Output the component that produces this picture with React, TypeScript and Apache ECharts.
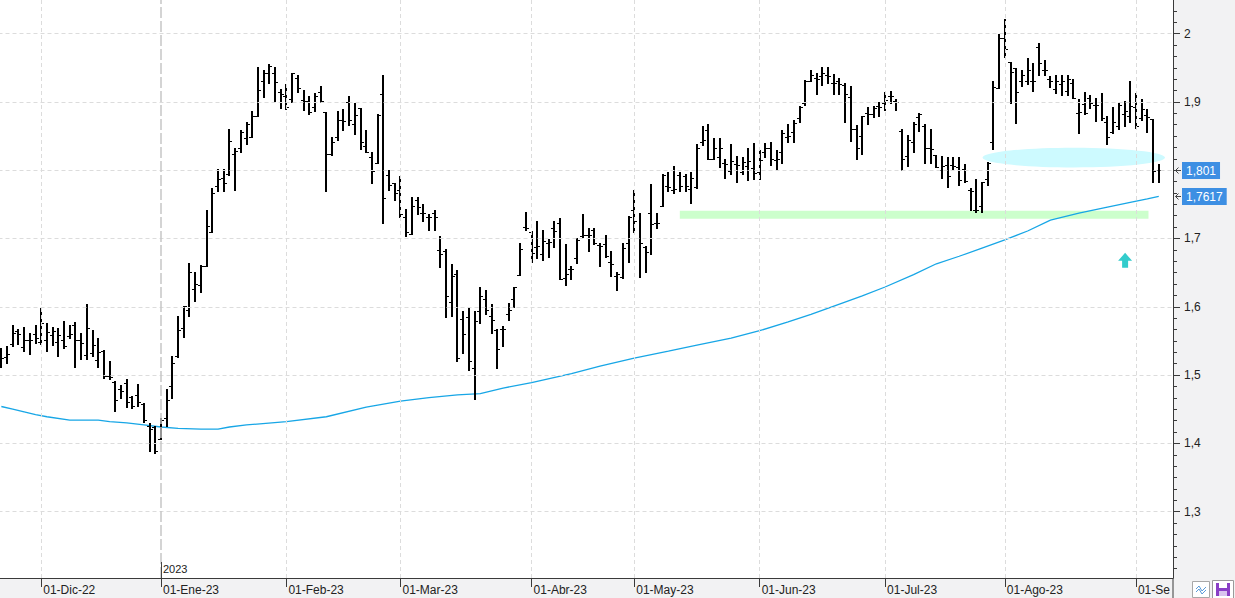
import React, { useEffect, useRef } from "react";
import * as echarts from "echarts";

const FONT = "'Liberation Sans', Arial, Helvetica, sans-serif";

// ---- calendar (trading sessions per month) ----
const monthNames = ["Nov-22", "Dic-22", "Ene-23", "Feb-23", "Mar-23", "Abr-23", "May-23", "Jun-23", "Jul-23", "Ago-23", "Sep-23"];
const monthTradingDays = [7, 21, 22, 20, 23, 18, 22, 22, 21, 23, 5];
const monthTickLabels = ["", "01-Dic-22", "01-Ene-23", "01-Feb-23", "01-Mar-23", "01-Abr-23", "01-May-23", "01-Jun-23", "01-Jul-23", "01-Ago-23", "01-Se"];

// ---- OHLC values ----
const open = [
  1.525, 1.527, 1.546, 1.565, 1.541, 1.551, 1.560, 1.549, 1.551, 1.559,
  1.549, 1.551, 1.557, 1.573, 1.552, 1.529, 1.532, 1.522, 1.535, 1.499,
  1.490, 1.480, 1.488, 1.468, 1.471, 1.458, 1.425, 1.424, 1.407, 1.437,
  1.484, 1.528, 1.569, 1.596, 1.626, 1.632, 1.659, 1.710, 1.777, 1.788,
  1.795, 1.823, 1.833, 1.847, 1.848, 1.879, 1.930, 1.943, 1.942, 1.914,
  1.909, 1.904, 1.935, 1.903, 1.902, 1.892, 1.914, 1.885, 1.823, 1.848,
  1.873, 1.900, 1.867, 1.891, 1.836, 1.820, 1.810, 1.912, 1.793, 1.781,
  1.771, 1.731, 1.706, 1.756, 1.738, 1.732, 1.737, 1.683, 1.682, 1.607,
  1.648, 1.582, 1.585, 1.510, 1.594, 1.612, 1.587, 1.566, 1.567, 1.590,
  1.611, 1.647, 1.717, 1.710, 1.688, 1.677, 1.694, 1.716, 1.722, 1.642,
  1.656, 1.672, 1.704, 1.705, 1.713, 1.690, 1.692, 1.665, 1.645, 1.643,
  1.694, 1.741, 1.700, 1.688, 1.737, 1.723, 1.747, 1.777, 1.771, 1.793,
  1.791, 1.772, 1.775, 1.842, 1.859, 1.817, 1.819, 1.810, 1.799, 1.809,
  1.798, 1.806, 1.803, 1.798, 1.826, 1.832, 1.815, 1.826, 1.848, 1.856,
  1.876, 1.898, 1.931, 1.935, 1.938, 1.940, 1.928, 1.931, 1.925, 1.907,
  1.861, 1.850, 1.884, 1.883, 1.894, 1.898, 1.909, 1.901, 1.858, 1.821,
  1.842, 1.878, 1.865, 1.833, 1.822, 1.801, 1.807, 1.807, 1.805, 1.802,
  1.771, 1.742, 1.747, 1.787, 1.841, 1.921, 1.993, 1.958, 1.949, 1.931,
  1.931, 1.931, 1.980, 1.947, 1.933, 1.919, 1.926, 1.916, 1.927, 1.884,
  1.897, 1.906, 1.895, 1.900, 1.871, 1.856, 1.864, 1.882, 1.879, 1.893,
  1.876, 1.881, 1.875, 1.800,
];
const high = [
  1.539, 1.543, 1.573, 1.567, 1.570, 1.561, 1.573, 1.598, 1.576, 1.570,
  1.569, 1.579, 1.574, 1.578, 1.561, 1.604, 1.566, 1.555, 1.537, 1.521,
  1.492, 1.485, 1.494, 1.470, 1.487, 1.459, 1.430, 1.425, 1.437, 1.480,
  1.528, 1.587, 1.601, 1.664, 1.651, 1.661, 1.742, 1.774, 1.802, 1.802,
  1.860, 1.833, 1.859, 1.871, 1.887, 1.951, 1.947, 1.955, 1.951, 1.919,
  1.926, 1.943, 1.939, 1.917, 1.909, 1.913, 1.923, 1.885, 1.848, 1.887,
  1.889, 1.909, 1.899, 1.891, 1.859, 1.827, 1.883, 1.940, 1.800, 1.781,
  1.791, 1.743, 1.761, 1.761, 1.751, 1.736, 1.742, 1.704, 1.684, 1.663,
  1.654, 1.594, 1.600, 1.594, 1.629, 1.625, 1.604, 1.568, 1.572, 1.605,
  1.629, 1.694, 1.739, 1.711, 1.725, 1.712, 1.699, 1.725, 1.730, 1.692,
  1.660, 1.700, 1.736, 1.716, 1.716, 1.693, 1.705, 1.682, 1.651, 1.693,
  1.733, 1.771, 1.738, 1.689, 1.780, 1.738, 1.794, 1.798, 1.806, 1.798,
  1.795, 1.797, 1.839, 1.865, 1.868, 1.847, 1.847, 1.817, 1.838, 1.821,
  1.820, 1.833, 1.840, 1.830, 1.840, 1.842, 1.830, 1.859, 1.868, 1.874,
  1.894, 1.932, 1.946, 1.942, 1.951, 1.951, 1.941, 1.935, 1.927, 1.923,
  1.866, 1.879, 1.893, 1.894, 1.900, 1.914, 1.916, 1.904, 1.861, 1.852,
  1.871, 1.884, 1.868, 1.861, 1.822, 1.821, 1.820, 1.820, 1.820, 1.809,
  1.774, 1.787, 1.782, 1.812, 1.931, 2.000, 2.021, 1.958, 1.949, 1.947,
  1.965, 1.957, 1.986, 1.961, 1.938, 1.939, 1.939, 1.940, 1.933, 1.904,
  1.915, 1.910, 1.905, 1.913, 1.879, 1.892, 1.898, 1.902, 1.931, 1.913,
  1.904, 1.889, 1.875, 1.809,
];
const low = [
  1.512, 1.517, 1.542, 1.546, 1.536, 1.531, 1.547, 1.545, 1.535, 1.544,
  1.528, 1.539, 1.555, 1.512, 1.524, 1.524, 1.528, 1.512, 1.496, 1.494,
  1.447, 1.466, 1.453, 1.452, 1.455, 1.432, 1.389, 1.386, 1.407, 1.425,
  1.467, 1.527, 1.556, 1.587, 1.608, 1.622, 1.659, 1.709, 1.770, 1.770,
  1.793, 1.771, 1.827, 1.838, 1.848, 1.879, 1.907, 1.927, 1.901, 1.891,
  1.890, 1.900, 1.914, 1.888, 1.882, 1.887, 1.900, 1.770, 1.822, 1.844,
  1.859, 1.866, 1.853, 1.831, 1.826, 1.781, 1.810, 1.722, 1.771, 1.757,
  1.732, 1.704, 1.706, 1.736, 1.726, 1.712, 1.712, 1.658, 1.585, 1.587,
  1.521, 1.532, 1.508, 1.465, 1.576, 1.590, 1.562, 1.510, 1.542, 1.580,
  1.600, 1.646, 1.712, 1.666, 1.671, 1.669, 1.673, 1.688, 1.640, 1.632,
  1.640, 1.664, 1.702, 1.681, 1.692, 1.659, 1.673, 1.645, 1.624, 1.642,
  1.666, 1.710, 1.643, 1.651, 1.677, 1.716, 1.747, 1.769, 1.767, 1.769,
  1.769, 1.752, 1.774, 1.837, 1.816, 1.816, 1.805, 1.788, 1.794, 1.783,
  1.795, 1.785, 1.787, 1.787, 1.819, 1.808, 1.802, 1.811, 1.842, 1.842,
  1.871, 1.896, 1.930, 1.911, 1.925, 1.927, 1.912, 1.912, 1.871, 1.843,
  1.816, 1.823, 1.867, 1.878, 1.879, 1.888, 1.898, 1.888, 1.801, 1.806,
  1.827, 1.858, 1.810, 1.810, 1.804, 1.788, 1.776, 1.800, 1.779, 1.783,
  1.742, 1.739, 1.739, 1.779, 1.831, 1.921, 1.966, 1.898, 1.869, 1.923,
  1.926, 1.916, 1.939, 1.939, 1.922, 1.913, 1.910, 1.910, 1.905, 1.854,
  1.883, 1.891, 1.872, 1.873, 1.838, 1.855, 1.861, 1.864, 1.871, 1.862,
  1.873, 1.856, 1.783, 1.783,
];
const close = [
  1.525, 1.531, 1.561, 1.560, 1.552, 1.551, 1.555, 1.576, 1.563, 1.564,
  1.558, 1.542, 1.560, 1.552, 1.547, 1.569, 1.544, 1.534, 1.499, 1.497,
  1.463, 1.477, 1.461, 1.455, 1.461, 1.434, 1.421, 1.389, 1.434, 1.464,
  1.518, 1.566, 1.601, 1.651, 1.633, 1.659, 1.718, 1.767, 1.787, 1.781,
  1.843, 1.828, 1.856, 1.868, 1.879, 1.918, 1.943, 1.953, 1.929, 1.912,
  1.892, 1.942, 1.921, 1.902, 1.885, 1.908, 1.901, 1.823, 1.841, 1.873,
  1.872, 1.873, 1.881, 1.841, 1.827, 1.799, 1.881, 1.759, 1.778, 1.766,
  1.736, 1.709, 1.748, 1.746, 1.737, 1.731, 1.731, 1.678, 1.616, 1.645,
  1.525, 1.560, 1.521, 1.579, 1.616, 1.595, 1.581, 1.538, 1.568, 1.596,
  1.629, 1.684, 1.716, 1.679, 1.689, 1.696, 1.695, 1.711, 1.641, 1.648,
  1.655, 1.698, 1.705, 1.705, 1.693, 1.689, 1.675, 1.662, 1.648, 1.686,
  1.731, 1.726, 1.693, 1.680, 1.721, 1.723, 1.793, 1.776, 1.773, 1.777,
  1.777, 1.788, 1.832, 1.844, 1.817, 1.832, 1.833, 1.809, 1.814, 1.808,
  1.812, 1.814, 1.796, 1.815, 1.833, 1.817, 1.816, 1.855, 1.850, 1.869,
  1.893, 1.931, 1.940, 1.934, 1.943, 1.938, 1.927, 1.926, 1.912, 1.861,
  1.833, 1.879, 1.883, 1.891, 1.893, 1.903, 1.909, 1.900, 1.817, 1.844,
  1.868, 1.882, 1.833, 1.831, 1.805, 1.806, 1.792, 1.806, 1.786, 1.784,
  1.770, 1.741, 1.782, 1.811, 1.922, 1.993, 1.977, 1.944, 1.915, 1.939,
  1.947, 1.930, 1.957, 1.946, 1.931, 1.930, 1.930, 1.934, 1.905, 1.885,
  1.884, 1.899, 1.895, 1.876, 1.848, 1.871, 1.895, 1.887, 1.894, 1.864,
  1.889, 1.878, 1.799, 1.801,
];

// ---- moving average (values read at these sessions) ----
const maIndex = [0, 2, 4, 6, 8, 12, 17, 19, 22, 25, 28, 31, 35, 38, 40, 43, 50, 57, 64, 70, 75, 80, 84, 88, 93, 100, 105, 111, 117, 122, 128, 133, 138, 142, 147, 151, 155, 160, 164, 168, 172, 176, 180, 184, 189, 194, 198, 201, 203];
const maValue = [1.454, 1.450, 1.446, 1.442, 1.439, 1.434, 1.434, 1.432, 1.430, 1.427, 1.424, 1.422, 1.421, 1.421, 1.424, 1.427, 1.432, 1.439, 1.453, 1.462, 1.467, 1.471, 1.473, 1.481, 1.489, 1.502, 1.513, 1.525, 1.535, 1.544, 1.554, 1.565, 1.578, 1.589, 1.604, 1.616, 1.629, 1.647, 1.663, 1.674, 1.686, 1.698, 1.711, 1.727, 1.737, 1.746, 1.753, 1.758, 1.7617];

// ---- axis ----
const yMajorTicks = [1.3, 1.4, 1.5, 1.6, 1.7, 1.8, 1.9, 2.0];
const yTickLabelValues = [1.3, 1.4, 1.5, 1.6, 1.7, 1.9, 2.0]; // 1,8 sits under the last-price box
const yMin = 1.2029;
const yMax = 2.0492;
const yMinorSplit = 6;

// ---- annotations (data coordinates) ----
const greenBand = { fromIndex: 119, toIndex: 201.2, top: 1.7405, bottom: 1.729 };
const cyanEllipse = { fromIndex: 172.1, toIndex: 204.1, top: 1.833, bottom: 1.804 };
const arrowMark = { index: 197.1, tip: 1.679, base: 1.657 };
const yearMark = { index: 28, label: "2023" };

// build categories
const categories: string[] = [];
const labelByIndex: Record<number, string> = {};
monthNames.forEach((m, mi) => {
  if (mi > 0) labelByIndex[categories.length] = monthTickLabels[mi];
  for (let d = 1; d <= monthTradingDays[mi]; d++) categories.push(`${m} #${d}`);
});
const barCount = categories.length;
categories.push("pad-1", "pad-2");

const ohlcData = open.map((o, i) => [i, o, high[i], low[i], close[i]]);
const maSeries: (number | null)[] = new Array(barCount).fill(null);
maIndex.forEach((idx, k) => (maSeries[idx] = maValue[k]));

const yMinorTicks: number[] = [];
for (let k = 0; k < yMajorTicks.length + 1; k++) {
  const base = 1.2 + k * 0.1;
  for (let s = 1; s < yMinorSplit; s++) {
    const v = base + (s * 0.1) / yMinorSplit;
    if (v > yMin && v < yMax) yMinorTicks.push(v);
  }
}

const fmt = (v: number) => String(Math.round(v * 10000) / 10000).replace(".", ",");

export default function App() {
  const ref = useRef<HTMLDivElement>(null);
  useEffect(() => {
    if (!ref.current) return;
    const chart = echarts.init(ref.current, undefined, { renderer: "svg" });
    const gridLineStyle = { color: "#dcdcdc", type: [4, 3] as any, width: 1 };
    const markLineData: any[] = [];
    yMajorTicks.forEach((v) => markLineData.push({ yAxis: v, lineStyle: gridLineStyle }));
    Object.keys(labelByIndex).forEach((k) => {
      const idx = Number(k);
      if (idx === yearMark.index) return;
      markLineData.push({ xAxis: categories[idx], lineStyle: gridLineStyle });
    });
    markLineData.push({ xAxis: categories[yearMark.index], lineStyle: { color: "#c6c6c6", type: [11, 3], width: 1.5 } });

    chart.setOption({
      animation: false,
      backgroundColor: "#f2f2f3",
      textStyle: { fontFamily: FONT },
      grid: { left: -1.5, right: 62, top: 0, bottom: 20, show: true, backgroundColor: "#ffffff", borderWidth: 0, outerBoundsMode: "none" } as any,
      xAxis: {
        type: "category",
        data: categories,
        boundaryGap: true,
        axisLine: { show: true, lineStyle: { color: "#3a3a3a", width: 1 } },
        axisTick: { show: true, alignWithLabel: true, length: 9, interval: (i: number) => labelByIndex[i] !== undefined, lineStyle: { color: "#3a3a3a" } },
        axisLabel: {
          show: true,
          interval: (i: number) => labelByIndex[i] !== undefined,
          formatter: (_v: string, i: number) => labelByIndex[i] ?? "",
          align: "left",
          margin: 6,
          padding: [0, 0, 0, 2],
          color: "#222",
          fontSize: 12,
          fontFamily: FONT,
        },
        splitLine: { show: false },
      },
      yAxis: [
        {
          type: "value",
          position: "right",
          min: yMin,
          max: yMax,
          axisLine: { show: true, lineStyle: { color: "#3a3a3a", width: 1 } },
          axisTick: { show: true, length: 7, customValues: yMajorTicks, lineStyle: { color: "#3a3a3a" } },
          axisLabel: { show: true, customValues: yTickLabelValues, formatter: (v: number) => fmt(v), margin: 11, color: "#222", fontSize: 12, fontFamily: FONT },
          splitLine: { show: false },
        },
        {
          type: "value",
          position: "right",
          min: yMin,
          max: yMax,
          axisLine: { show: false },
          axisTick: { show: true, length: 4, customValues: yMinorTicks, lineStyle: { color: "#3a3a3a" } },
          axisLabel: { show: false },
          splitLine: { show: false },
        },
      ],
      series: [
        {
          type: "line",
          name: "grid",
          data: [],
          z: 0,
          silent: true,
          markLine: { silent: true, animation: false, symbol: ["none", "none"], label: { show: false }, data: markLineData },
        },
        {
          type: "line",
          name: "MA",
          data: maSeries,
          connectNulls: true,
          showSymbol: false,
          symbol: "none",
          silent: true,
          z: 2,
          lineStyle: { color: "#17a6e6", width: 1.3 },
        },
        {
          type: "custom",
          name: "OHLC",
          data: ohlcData,
          encode: { x: 0, y: [1, 2, 3, 4] },
          z: 3,
          silent: true,
          renderItem: (_params: any, api: any) => {
            const i = api.value(0);
            const pH = api.coord([i, api.value(2)]);
            const pL = api.coord([i, api.value(3)]);
            const yO = Math.round(api.coord([i, api.value(1)])[1]) + 0.5;
            const yC = Math.round(api.coord([i, api.value(4)])[1]) + 0.5;
            const x = Math.round(pH[0]);
            return {
              type: "group",
              children: [
                { type: "line", shape: { x1: x, y1: Math.round(pH[1]), x2: x, y2: Math.round(pL[1]) + 1 }, style: { stroke: "#000", lineWidth: 2 } },
                { type: "line", shape: { x1: x - 3, y1: yO, x2: x - 1, y2: yO }, style: { stroke: "#000", lineWidth: 1 } },
                { type: "line", shape: { x1: x + 1, y1: yC, x2: x + 3, y2: yC }, style: { stroke: "#000", lineWidth: 1 } },
              ],
            };
          },
        },
      ],
    } as any);

    // annotations positioned from data coordinates
    const cx0 = chart.convertToPixel({ xAxisIndex: 0 } as any, categories[0]) as unknown as number;
    const cx1 = chart.convertToPixel({ xAxisIndex: 0 } as any, categories[1]) as unknown as number;
    const step = cx1 - cx0;
    const px = (i: number) => cx0 + i * step;
    const py = (v: number) => chart.convertToPixel({ yAxisIndex: 0 } as any, v) as unknown as number;
    const axisX = px(categories.length - 0.5);
    const gridBottom = py(yMin);

    const lastClose = close[close.length - 1];
    const lastMA = maValue[maValue.length - 1];

    const bandX1 = px(greenBand.fromIndex), bandX2 = px(greenBand.toIndex);
    const bandY1 = py(greenBand.top), bandY2 = py(greenBand.bottom);
    const eX1 = px(cyanEllipse.fromIndex), eX2 = px(cyanEllipse.toIndex);
    const eY1 = py(cyanEllipse.top), eY2 = py(cyanEllipse.bottom);
    const ax = px(arrowMark.index), aTip = py(arrowMark.tip), aBase = py(arrowMark.base);
    const yx = Math.round(px(yearMark.index));

    const priceLabel = (v: number, text: string) => {
      const y = Math.round(py(v)) + 0.5;
      return [
        { type: "polyline", z: 10, silent: true, shape: { points: [[axisX + 8, y], [axisX + 2.5, y]] }, style: { stroke: "#444", lineWidth: 1, fill: null } },
        { type: "polyline", z: 10, silent: true, shape: { points: [[axisX + 5.5, y - 3], [axisX + 2.5, y], [axisX + 5.5, y + 3]] }, style: { stroke: "#444", lineWidth: 1, fill: null } },
        {
          type: "text",
          z: 10,
          silent: true,
          style: { text, x: axisX + 9, y: y, fill: "#ffffff", font: `12px ${FONT}`, backgroundColor: "#3d8fe3", padding: [3, 4, 2, 4], verticalAlign: "middle", align: "left" },
        },
      ];
    };

    const ix1 = axisX + 19, iy1 = gridBottom + 3;
    const ix2 = axisX + 39, iy2 = gridBottom + 2;

    chart.setOption({
      graphic: {
        elements: [
          { type: "rect", z: 1, silent: true, shape: { x: bandX1, y: bandY1, width: bandX2 - bandX1, height: bandY2 - bandY1 }, style: { fill: "#ccffcc" } },
          { type: "ellipse", z: 1, silent: true, shape: { cx: (eX1 + eX2) / 2, cy: (eY1 + eY2) / 2, rx: (eX2 - eX1) / 2, ry: (eY2 - eY1) / 2 }, style: { fill: "#cdfaff" } },
          {
            type: "polygon",
            z: 5,
            silent: true,
            shape: { points: [[ax, aTip], [ax + 7, aTip + 8], [ax + 3, aTip + 8], [ax + 3, aBase], [ax - 3, aBase], [ax - 3, aTip + 8], [ax - 7, aTip + 8]] },
            style: { fill: "#33cccc" },
          },
          { type: "line", z: 5, silent: true, shape: { x1: yx + 0.5, y1: gridBottom - 16, x2: yx + 0.5, y2: gridBottom }, style: { stroke: "#444", lineWidth: 1 } },
          { type: "text", z: 5, silent: true, style: { text: yearMark.label, x: yx + 2, y: gridBottom - 9, fill: "#222", font: `11px ${FONT}`, verticalAlign: "middle", align: "left" } },
          { type: "line", z: 5, silent: true, shape: { x1: axisX, y1: gridBottom, x2: axisX, y2: 598 }, style: { stroke: "#3a3a3a", lineWidth: 1 } },
          ...priceLabel(lastClose, fmt(lastClose)),
          ...priceLabel(lastMA, fmt(lastMA)),
          // toolbar icons
          { type: "rect", z: 5, silent: true, shape: { x: ix1 + 0.5, y: iy1 + 0.5, width: 17, height: 16 }, style: { fill: "#ffffff", stroke: "#a8a8a8", lineWidth: 1 } },
          { type: "polyline", z: 6, silent: true, shape: { points: [[ix1 + 4, iy1 + 8], [ix1 + 7, iy1 + 5], [ix1 + 10, iy1 + 10], [ix1 + 14, iy1 + 6]] }, style: { stroke: "#5b9bd8", lineWidth: 1, fill: null } },
          { type: "polyline", z: 6, silent: true, shape: { points: [[ix1 + 4, iy1 + 11], [ix1 + 7, iy1 + 8], [ix1 + 10, iy1 + 13], [ix1 + 14, iy1 + 9]] }, style: { stroke: "#5b9bd8", lineWidth: 1, fill: null } },
          { type: "rect", z: 5, silent: true, shape: { x: ix2 + 0.5, y: iy2 + 0.5, width: 21, height: 18 }, style: { fill: "#ffffff", stroke: "#9a9a9a", lineWidth: 1 } },
          { type: "rect", z: 6, silent: true, shape: { x: ix2 + 4, y: iy2 + 3, width: 14, height: 13 }, style: { fill: "#8a3fc6" } },
          { type: "rect", z: 7, silent: true, shape: { x: ix2 + 7, y: iy2 + 3, width: 8, height: 5 }, style: { fill: "#ffffff" } },
          { type: "rect", z: 7, silent: true, shape: { x: ix2 + 7, y: iy2 + 11, width: 8, height: 5 }, style: { fill: "#d9c4ee" } },
        ],
      },
    } as any);

    return () => chart.dispose();
  }, []);
  return <div ref={ref} style={{ position: "fixed", left: 0, top: 0, width: 1235, height: 598 }} />;
}
